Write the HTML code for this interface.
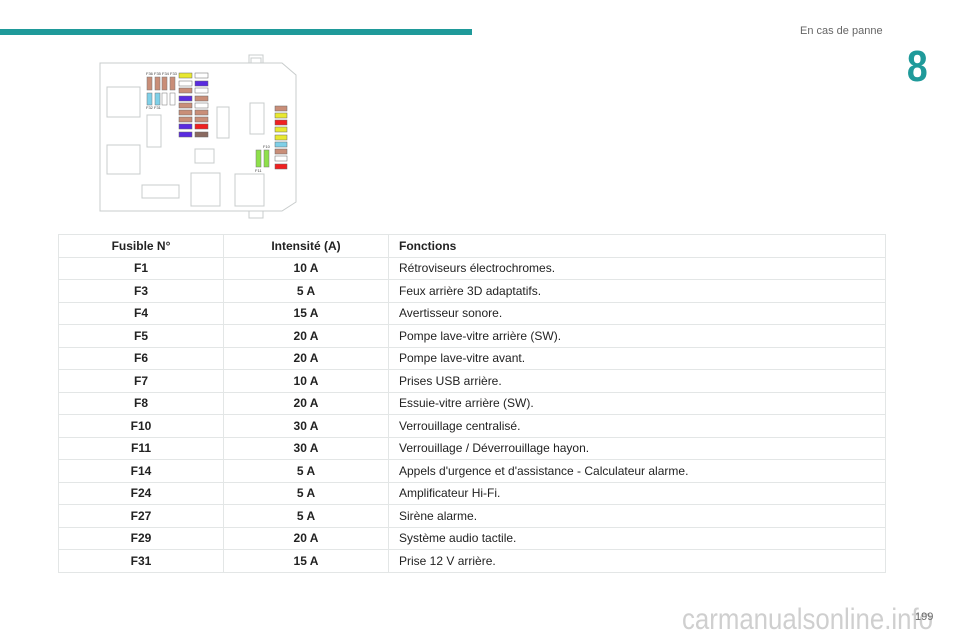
<!DOCTYPE html>
<html><head><meta charset="utf-8"><style>
body{margin:0;width:960px;height:640px;background:#fff;position:relative;overflow:hidden;font-family:"Liberation Sans",sans-serif;}
.bar{position:absolute;left:0;top:29px;width:472px;height:6px;background:#1f9a9a;}
.hdr{position:absolute;left:800px;top:25px;font-size:11px;color:#666;}
.num{position:absolute;left:905px;top:42px;font-size:44px;font-weight:bold;color:#1f9a9a;transform:scaleX(0.85);}
table{position:absolute;left:58px;top:234px;width:828px;border-collapse:collapse;font-size:12px;color:#222;}
td{border:1px solid #e3e6e6;height:21.5px;padding:0 10px;}
td.c{text-align:center;font-weight:bold;}
.h td{font-weight:bold;}
.wm{position:absolute;left:682px;top:603px;font-size:30px;color:#cfcfcf;white-space:nowrap;transform:scaleX(0.86);transform-origin:0 0;}
.pg{position:absolute;left:915px;top:611px;font-size:11px;color:#666;}
</style></head><body>
<div class="bar"></div>
<div class="hdr">En cas de panne</div>
<div class="num">8</div>
<svg style="position:absolute;left:0;top:0" width="320" height="225">
<g fill="none" stroke="#c8cccc" stroke-width="1">
<path d="M100 63 H282 L296 75 V202 L282 211 H100 Z"/>
<rect x="249" y="55" width="14" height="8"/><rect x="251" y="58" width="10" height="5"/>
<rect x="249" y="211" width="14" height="7"/>
<rect x="107" y="87" width="33" height="30"/>
<rect x="107" y="145" width="33" height="29"/>
<rect x="147" y="115" width="14" height="32"/>
<rect x="217" y="107" width="12" height="31"/>
<rect x="250" y="103" width="14" height="31"/>
<rect x="195" y="149" width="19" height="14"/>
<rect x="142" y="185" width="37" height="13"/>
<rect x="191" y="173" width="29" height="33"/>
<rect x="235" y="174" width="29" height="32"/>
</g>
<g font-size="4" fill="#444"><text x="146" y="75">F36 F35 F34 F33</text><text x="146" y="109">F32 F31</text><text x="263" y="148">F10</text><text x="255" y="172">F11</text></g>
<g stroke="#777" stroke-width="0.5">
<rect x="147" y="77" width="5" height="13" fill="#c98e78"/><rect x="155" y="77" width="5" height="13" fill="#c98e78"/><rect x="162" y="77" width="5" height="13" fill="#c98e78"/><rect x="170" y="77" width="5" height="13" fill="#c98e78"/>
<rect x="147" y="93" width="5" height="12" fill="#7fd0e8"/><rect x="155" y="93" width="5" height="12" fill="#7fd0e8"/><rect x="162" y="93" width="5" height="12" fill="#fff"/><rect x="170" y="93" width="5" height="12" fill="#fff"/>
<rect x="256" y="150" width="5" height="17" fill="#8ee04a"/><rect x="264" y="150" width="5" height="17" fill="#8ee04a"/>
</g>
<g stroke="#666" stroke-width="0.5">
<rect x="179" y="73" width="13" height="5" fill="#e8e830"/><rect x="179" y="81" width="13" height="5" fill="#fff"/><rect x="179" y="88" width="13" height="5" fill="#c98e78"/><rect x="179" y="96" width="13" height="5" fill="#5a2be0"/><rect x="179" y="103" width="13" height="5" fill="#c98e78"/><rect x="179" y="110" width="13" height="5" fill="#c98e78"/><rect x="179" y="117" width="13" height="5" fill="#c98e78"/><rect x="179" y="124" width="13" height="5" fill="#5a2be0"/><rect x="179" y="132" width="13" height="5" fill="#5a2be0"/>
<rect x="195" y="73" width="13" height="5" fill="#fff"/><rect x="195" y="81" width="13" height="5" fill="#5a2be0"/><rect x="195" y="88" width="13" height="5" fill="#fff"/><rect x="195" y="96" width="13" height="5" fill="#c98e78"/><rect x="195" y="103" width="13" height="5" fill="#fff"/><rect x="195" y="110" width="13" height="5" fill="#c98e78"/><rect x="195" y="117" width="13" height="5" fill="#c98e78"/><rect x="195" y="124" width="13" height="5" fill="#f02020"/><rect x="195" y="132" width="13" height="5" fill="#8a6a60"/>
<rect x="275" y="106" width="12" height="5" fill="#c98e78"/><rect x="275" y="113" width="12" height="5" fill="#e8e830"/><rect x="275" y="120" width="12" height="5" fill="#f02020"/><rect x="275" y="127" width="12" height="5" fill="#e8e830"/><rect x="275" y="135" width="12" height="5" fill="#e8e830"/><rect x="275" y="142" width="12" height="5" fill="#7fd0e8"/><rect x="275" y="149" width="12" height="5" fill="#c98e78"/><rect x="275" y="156" width="12" height="5" fill="#fff"/><rect x="275" y="164" width="12" height="5" fill="#f02020"/>
</g>
</svg>
<table>
<colgroup><col style="width:165px"><col style="width:165px"><col></colgroup>
<tr class="h"><td class="c">Fusible N°</td><td class="c">Intensité (A)</td><td>Fonctions</td></tr>
<tr><td class="c">F1</td><td class="c">10 A</td><td>Rétroviseurs électrochromes.</td></tr>
<tr><td class="c">F3</td><td class="c">5 A</td><td>Feux arrière 3D adaptatifs.</td></tr>
<tr><td class="c">F4</td><td class="c">15 A</td><td>Avertisseur sonore.</td></tr>
<tr><td class="c">F5</td><td class="c">20 A</td><td>Pompe lave-vitre arrière (SW).</td></tr>
<tr><td class="c">F6</td><td class="c">20 A</td><td>Pompe lave-vitre avant.</td></tr>
<tr><td class="c">F7</td><td class="c">10 A</td><td>Prises USB arrière.</td></tr>
<tr><td class="c">F8</td><td class="c">20 A</td><td>Essuie-vitre arrière (SW).</td></tr>
<tr><td class="c">F10</td><td class="c">30 A</td><td>Verrouillage centralisé.</td></tr>
<tr><td class="c">F11</td><td class="c">30 A</td><td>Verrouillage / Déverrouillage hayon.</td></tr>
<tr><td class="c">F14</td><td class="c">5 A</td><td>Appels d'urgence et d'assistance - Calculateur alarme.</td></tr>
<tr><td class="c">F24</td><td class="c">5 A</td><td>Amplificateur Hi-Fi.</td></tr>
<tr><td class="c">F27</td><td class="c">5 A</td><td>Sirène alarme.</td></tr>
<tr><td class="c">F29</td><td class="c">20 A</td><td>Système audio tactile.</td></tr>
<tr><td class="c">F31</td><td class="c">15 A</td><td>Prise 12 V arrière.</td></tr>
</table>
<div class="wm">carmanualsonline.info</div>
<div class="pg">199</div>
</body></html>
